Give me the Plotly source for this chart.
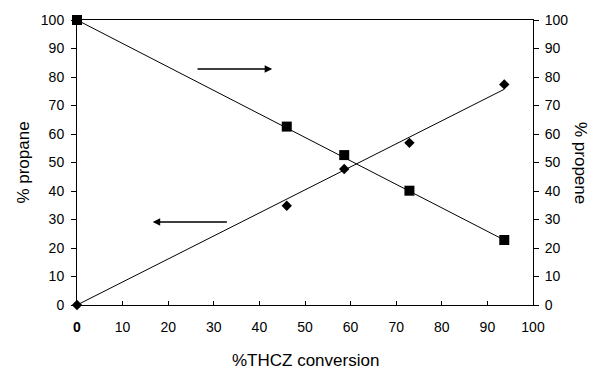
import plotly.graph_objects as go

# Data
conversion = [0, 46.0, 58.6, 72.9, 93.7]
propane = [0, 34.8, 47.7, 56.9, 77.4]      # diamonds, left axis
propene = [100, 62.6, 52.6, 40.1, 22.8]    # squares, right axis
fit_x = [0, 93.7]
propane_fit = [0, 75.7]
propene_fit = [100, 22.8]

x_ticks = [0, 10, 20, 30, 40, 50, 60, 70, 80, 90, 100]
x_ticktext = ["<b>0</b>"] + [str(v) for v in x_ticks[1:]]
y_ticks = [0, 10, 20, 30, 40, 50, 60, 70, 80, 90, 100]

FONT = "Arial, Liberation Sans, sans-serif"

fig = go.Figure()
fig.add_trace(go.Scatter(x=fit_x, y=propane_fit, mode="lines",
                         line=dict(color="black", width=1), cliponaxis=False, hoverinfo="skip"))
fig.add_trace(go.Scatter(x=fit_x, y=propene_fit, mode="lines", yaxis="y2",
                         line=dict(color="black", width=1), cliponaxis=False, hoverinfo="skip"))
fig.add_trace(go.Scatter(x=conversion, y=propane, mode="markers", name="% propane",
                         marker=dict(symbol="diamond", size=8, color="black"), cliponaxis=False))
fig.add_trace(go.Scatter(x=conversion, y=propene, mode="markers", name="% propene", yaxis="y2",
                         marker=dict(symbol="square", size=10, color="black"), cliponaxis=False))

# Arrows indicating which axis each series belongs to
fig.add_annotation(x=42.8, y=82.8, ax=26.1, ay=82.8, xref="x", yref="y", axref="x", ayref="y",
                   text="", showarrow=True, arrowhead=2, arrowsize=1, arrowwidth=1.5, arrowcolor="black")
fig.add_annotation(x=16.6, y=29.1, ax=33.2, ay=29.1, xref="x", yref="y", axref="x", ayref="y",
                   text="", showarrow=True, arrowhead=2, arrowsize=1, arrowwidth=1.5, arrowcolor="black")

# Axis titles as annotations
fig.add_annotation(x=1.0, xref="paper", xshift=59, y=0.5, yref="paper", text="% propene",
                   textangle=90, showarrow=False, font=dict(family=FONT, size=17, color="black"))
fig.add_annotation(x=0.5, xref="paper", y=0, yref="paper", yanchor="middle", yshift=-55,
                   text="%THCZ conversion", showarrow=False,
                   font=dict(family=FONT, size=17, color="black"))

fig.update_layout(
    width=590, height=370,
    margin=dict(l=77, r=57, t=20, b=65),
    paper_bgcolor="white", plot_bgcolor="white",
    showlegend=False,
    font=dict(family=FONT, size=14, color="black"),
    xaxis=dict(range=[0, 100], tickvals=x_ticks, ticktext=x_ticktext, automargin=False,
               ticks="inside", ticklen=4, tickcolor="black", ticklabelstandoff=9,
               showline=True, linecolor="black", linewidth=1, mirror=True,
               showgrid=False, zeroline=False),
    yaxis=dict(range=[0, 100], tickvals=y_ticks, automargin=False,
               ticks="outside", ticklen=5, tickcolor="black", ticklabelstandoff=4,
               showline=True, linecolor="black", linewidth=1,
               showgrid=False, zeroline=False,
               title=dict(text="% propane", font=dict(size=17), standoff=6)),
    yaxis2=dict(range=[0, 100], tickvals=y_ticks, overlaying="y", side="right", automargin=False,
                ticks="outside", ticklen=5, tickcolor="black", ticklabelstandoff=3,
                showline=True, linecolor="black", linewidth=1,
                showgrid=False, zeroline=False),
)

fig.write_html("out.html")
